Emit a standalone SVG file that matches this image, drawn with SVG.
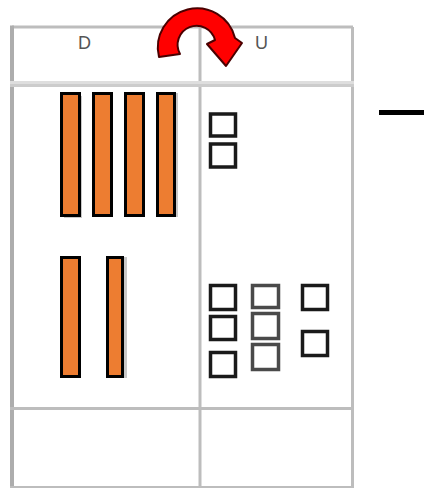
<svg xmlns="http://www.w3.org/2000/svg" width="425" height="488" viewBox="0 0 425 488">
<style>
.grid{stroke:#bdbdbd;stroke-width:3;fill:none}
.bar{fill:#ED7D31;stroke:#000;stroke-width:3}
.sq{fill:#fff;stroke:#1a1a1a;stroke-width:3.5}
.sq2{fill:#fff;stroke:#4a4a4a;stroke-width:3.5}
.lbl{font-family:"Liberation Sans",Arial,sans-serif;font-size:18px;fill:#555}
</style>
<rect width="425" height="488" fill="#fff"/>
<g id="frame">
<line class="grid" x1="12" y1="27" x2="353" y2="27"/>
<line x1="12" y1="25.5" x2="12" y2="488" stroke="#adadad" stroke-width="4"/>
<line class="grid" x1="200" y1="27" x2="200" y2="488" stroke-width="4"/>
<line class="grid" x1="352.5" y1="27" x2="352.5" y2="488"/>
<rect x="10" y="81" width="344" height="3" fill="#dedede"/>
<rect x="10" y="84" width="344" height="3" fill="#cccccc"/>
<line class="grid" x1="10" y1="408.5" x2="354" y2="408.5"/>
<line class="grid" x1="10" y1="487.5" x2="354" y2="487.5" stroke-width="1.5"/>
</g>
<g id="header-D"><text class="lbl" x="78" y="49">D</text></g>
<g id="header-U"><text class="lbl" x="255" y="49" fill="#444">U</text></g>
<g id="swap-arrow">
<path d="M159 57 A39 39 0 1 1 235 38 L242 43 L226 66 L207 44 L215 40 A19 19 0 1 0 180 54 Z" fill="#ff0000" stroke="#4a0000" stroke-width="2" stroke-linejoin="round"/>
</g>
<g id="bars-top">
<rect x="64" y="96" width="18" height="122" fill="#c8c8c8"/>
<rect class="bar" x="61.5" y="93.5" width="18" height="122"/>
<rect class="bar" x="93.5" y="93.5" width="18" height="122"/>
<rect class="bar" x="125.5" y="93.5" width="18" height="122"/>
<rect x="160" y="93" width="18" height="124" fill="#c8c8c8"/>
<rect class="bar" x="157.5" y="93.5" width="17" height="122"/>
</g>
<g id="bars-bottom">
<rect class="bar" x="61.5" y="257.5" width="18" height="119"/>
<rect x="110" y="257" width="17" height="121" fill="#c8c8c8"/>
<rect class="bar" x="107.5" y="257.5" width="15" height="119"/>
</g>
<g id="squares-top">
<rect class="sq" x="210.5" y="114" width="25" height="22"/>
<rect class="sq" x="210.5" y="144" width="25" height="23"/>
</g>
<g id="squares-bottom">
<rect class="sq" x="210.5" y="285.5" width="25" height="24"/>
<rect class="sq" x="210.5" y="316.5" width="25" height="23"/>
<rect class="sq" x="210.5" y="352.5" width="25" height="24"/>
<rect class="sq2" x="252.5" y="285.5" width="26" height="22"/>
<rect class="sq2" x="252.5" y="313.5" width="26" height="25"/>
<rect class="sq2" x="252.5" y="344.5" width="26" height="25"/>
<rect class="sq" x="302.5" y="285.5" width="25" height="24"/>
<rect class="sq" x="302.5" y="331.5" width="25" height="24"/>
</g>
<g id="dash"><rect x="379" y="110" width="45" height="5" fill="#000"/></g>
</svg>
